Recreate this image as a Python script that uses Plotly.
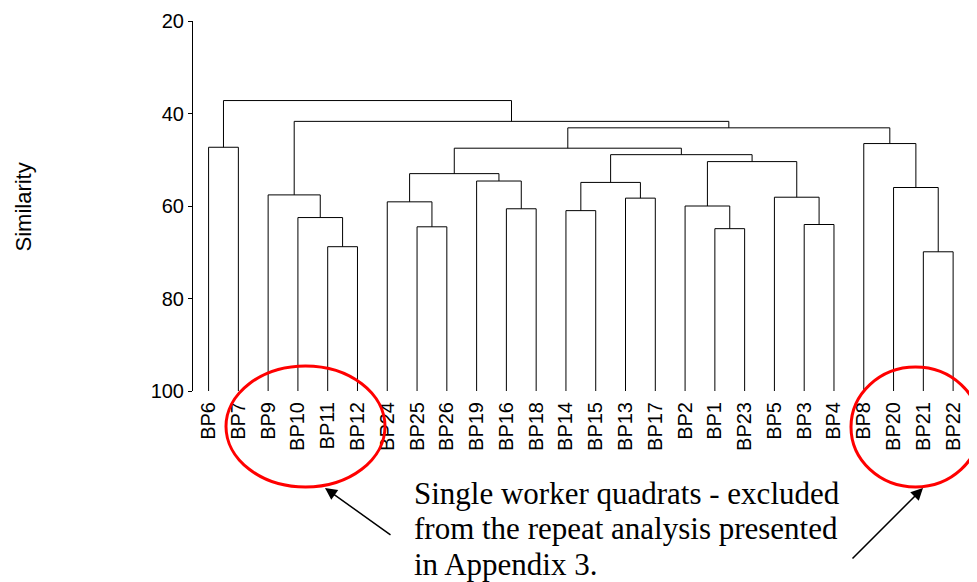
import plotly.graph_objects as go

# ---------------------------------------------------------------------------
# Dati: foglie del dendrogramma e fusioni (similarità %)
# ---------------------------------------------------------------------------

leaves = ["BP6", "BP7", "BP9", "BP10", "BP11", "BP12", "BP24", "BP25", "BP26",
          "BP19", "BP16", "BP18", "BP14", "BP15", "BP13", "BP17", "BP2", "BP1",
          "BP23", "BP5", "BP3", "BP4", "BP8", "BP20", "BP21", "BP22"]

# figli di ogni fusione: nome foglia oppure indice di una fusione precedente
merge_left = ["BP11", "BP10", "BP9", "BP6", "BP25", "BP24", "BP16", "BP19", 5,
              "BP14", "BP13", 9, "BP1", "BP2", "BP3", "BP5", 13, 11, 8,
              "BP21", "BP20", "BP8", 18, 2, 3]
merge_right = ["BP12", 0, 1, "BP7", "BP26", 4, "BP18", 6, 7,
               "BP15", "BP17", 10, "BP23", 12, "BP4", 14, 15, 16, 17,
               "BP22", 19, 20, 21, 22, 23]
merge_sim = [68.8, 62.5, 57.6, 47.3, 64.5, 59.1, 60.6, 54.6, 53.0,
             61.0, 58.3, 54.9, 64.9, 60.0, 64.0, 58.1, 50.4, 48.9, 47.5,
             69.9, 56.0, 46.5, 43.1, 41.7, 37.2]

y_ticks = [20, 40, 60, 80, 100]

note_lines = ["Single worker quadrats - excluded",
              "from the repeat analysis presented",
              "in Appendix 3."]

# ---------------------------------------------------------------------------
# Geometria della pagina (pixel della pagina; il body html ha 8px di margine)
# ---------------------------------------------------------------------------

OFF = 8
W, H = 977 - OFF, 582 - OFF
PLOT_L, PLOT_R, PLOT_T, PLOT_B = 193, 968, 21, 391   # area grafico sulla pagina
ML, MR = PLOT_L - OFF, W - (PLOT_R - OFF)
MT, MB = PLOT_T - OFF, H - (PLOT_B - OFF)
PW, PH = PLOT_R - PLOT_L, PLOT_B - PLOT_T


def px(x):
    return (x - PLOT_L) / PW


def py(y):
    return (PLOT_B - y) / PH


# ---------------------------------------------------------------------------
# Costruzione delle linee del dendrogramma
# ---------------------------------------------------------------------------

leaf_pos = {name: i for i, name in enumerate(leaves)}
node_x, node_h = [], []


def child(ref):
    if isinstance(ref, str):
        return leaf_pos[ref], 100.0
    return node_x[ref], node_h[ref]


xs, ys = [], []
for a, b, h in zip(merge_left, merge_right, merge_sim):
    xa, ha = child(a)
    xb, hb = child(b)
    xs += [xa, xa, xb, xb, None]
    ys += [ha, h, h, hb, None]
    node_x.append((xa + xb) / 2)
    node_h.append(h)

fig = go.Figure(go.Scatter(x=xs, y=ys, mode="lines",
                           line=dict(color="black", width=1),
                           hoverinfo="skip", showlegend=False))

fig.update_layout(
    width=W, height=H,
    margin=dict(l=ML, r=MR, t=MT, b=MB, autoexpand=False),
    paper_bgcolor="white", plot_bgcolor="white",
    font=dict(family="Liberation Sans, Arial", color="black", size=20),
)

fig.update_xaxes(
    range=[-0.523, len(leaves) - 0.5],
    tickvals=list(range(len(leaves))), ticktext=leaves,
    tickangle=-90, ticks="", ticklabelstandoff=6,
    showline=False, showgrid=False, zeroline=False,
    tickfont=dict(size=20),
)
fig.update_yaxes(
    range=[100, 20], tickvals=y_ticks,
    ticks="outside", ticklen=4, tickcolor="black",
    showline=True, linecolor="black", linewidth=1,
    showgrid=False, zeroline=False,
    tickfont=dict(size=20),
)

# titolo asse y
fig.add_annotation(text="Similarity", textangle=-90, showarrow=False,
                   xref="paper", yref="paper", x=px(22.5), y=py(207),
                   xanchor="center", yanchor="middle",
                   font=dict(size=22))

# ellissi rosse
for x0, x1, y0, y1 in [(226, 385, 366, 487), (851, 980, 367, 487)]:
    fig.add_shape(type="circle", xref="paper", yref="paper",
                  x0=px(x0), x1=px(x1), y0=py(y1), y1=py(y0),
                  line=dict(color="#ff0000", width=3))

# nota
for i, line in enumerate(note_lines):
    fig.add_annotation(text=line, showarrow=False, xref="paper", yref="paper",
                       x=px(413), y=py(493 + 35.5 * i),
                       xanchor="left", yanchor="middle", borderpad=0,
                       font=dict(family="Liberation Serif, Times New Roman",
                                 size=31))

# frecce
for tip, tail in [((325, 488), (392, 536)), ((923, 488), (851, 560))]:
    fig.add_annotation(text="", showarrow=True, xref="paper", yref="paper",
                       x=px(tip[0]), y=py(tip[1]),
                       ax=tail[0] - tip[0], ay=tail[1] - tip[1],
                       arrowhead=2, arrowsize=1.6, arrowwidth=1.5,
                       arrowcolor="black", standoff=0)

fig.write_html("out.html")
